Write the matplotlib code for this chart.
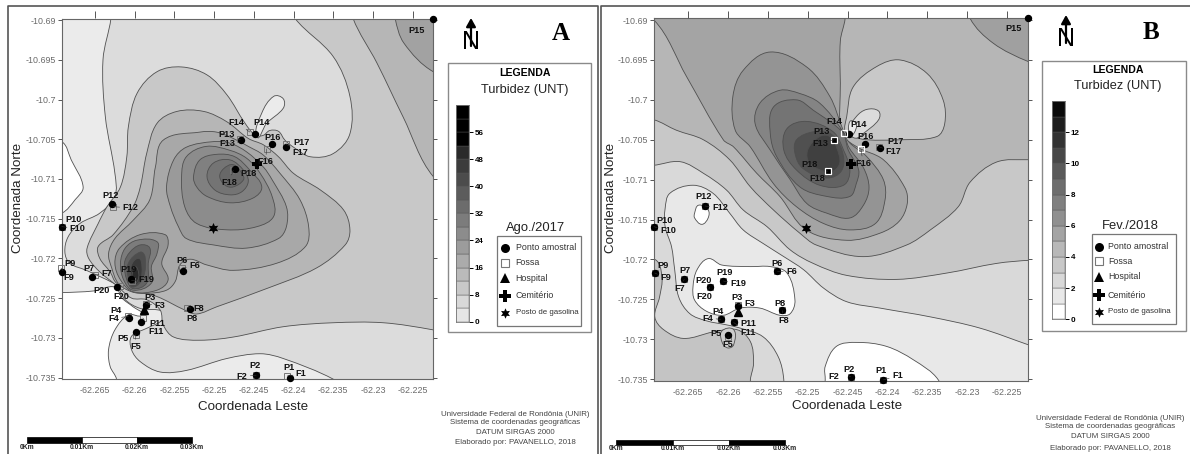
import numpy as np
import matplotlib
matplotlib.use("Agg")
import matplotlib.pyplot as plt
from matplotlib.path import Path
from matplotlib.patches import PathPatch, Rectangle

plt.rcParams['font.family'] = ['Liberation Sans', 'DejaVu Sans']

# ---------------- DATA: isolines ----------------
# Vertices are (x, y): x = thousandths of a degree west of 62, y = thousandths south of 10,
# so (260.0, 720.0) is lon -62.260, lat -10.720.
TICK_LON = [265, 260, 255, 250, 245, 240, 235, 230, 225]
TICK_LAT = [690, 695, 700, 705, 710, 715, 720, 725, 730, 735]
LON_LABELS = ['-62.265', '-62.26', '-62.255', '-62.25', '-62.245', '-62.24', '-62.235', '-62.23', '-62.225']
LAT_LABELS = ['-10.69', '-10.695', '-10.7', '-10.705', '-10.71', '-10.715', '-10.72', '-10.725', '-10.73', '-10.735']

# Map A (Ago./2017)
A_W1 = [(273,704.5),(269.2,705.3),(268,707.6),(266.5,711),(267.5,712.6),(269.2,714.3),(273,715)]
A_W2 = [(273,724.3),(269.2,724.3),(265.2,724.1),(262.5,723.6),(261.6,725),(260.2,726.1),(259.1,727.1),(260.8,727.1),(262.5,729),(263.3,731.5),(263.1,733.6),(262.3,735.2),(262.3,738),(273,738)]
A_L2 = [(263,687),(263,689.8),(264,695),(263.7,702.2),(262.5,709.3),(262.5,712.2),(264.4,714.3),(266.9,715.6),(268.4,717.3),(268.8,719.2),(268.2,720.6),(266.1,721.5),(262.7,723.1),(262.1,723.6),(261.2,725.2),(259.3,726.3),(256.4,726.7),(256.6,727.8),(258.5,728.8),(260.4,729.8),(260.4,731.5),(259.3,733),(256.8,734.3),(253.5,734.1),(248.4,732.6),(244.2,732),(241.3,732.6),(235,735.2),(233,737),(218,738),(218,687)]
A_L3 = [(218,687),(240.8,687),(239.8,689.8),(235,694.6),(232.9,699.6),(232.9,704.3),(235,706.8),(237.9,707.2),(240,706),(241.1,705.1),(241.9,704),(243,703.9),(243.8,704.5),(244.8,704.5),(246.1,703),(248.4,699.4),(250.9,696.9),(254.1,695.9),(257.2,696.5),(259.7,699.2),(260.8,703.4),(261,707.2),(261.8,711),(263.5,713.5),(264.6,715.6),(266,718.7),(265.8,720),(264.4,721.7),(262.3,723.4),(260.4,725),(258.5,725.2),(256.8,726.5),(256.4,728.4),(255.1,729.9),(251.8,730.3),(247.6,729.9),(241.3,728.6),(235,728.1),(228.7,728.1),(222.4,729),(218,730)]
A_L4_CORNER = [(232.7,687),(232.5,689.8),(229.5,695.4),(226.2,702.2),(222.4,709.7),(218,712),(218,687)]
A_L5_CORNER = [(227.4,687),(227.2,689.8),(226.1,692.9),(222.4,696.5),(218,697.5),(218,687)]
A_L4 = [(245.7,704.9),(243.8,705.7),(241.9,707.2),(240,709.3),(236.6,711.4),(233.7,713.9),(232.9,716.4),(233.5,718.3),(237.1,721.2),(243.4,723.8),(249.7,726.1),(252.2,727),(253.7,726.5),(257.2,724.8),(260.2,724),(262.3,723.1),(263.1,721.7),(264.4,720),(264.6,718.5),(262.7,717),(260.2,713.5),(259.3,711),(258.5,706.8),(257.2,703),(254.7,701.5),(251.3,701.5),(248.4,702.8)]
A_L5 = [(256.4,705.1),(251.8,704.1),(249.7,704.1),(247.6,704.9),(245.7,705.9),(243.8,707),(241.7,709.3),(239.2,712.6),(238.1,716),(238.5,718.5),(242.1,720.6),(247.6,721.5),(251,720.8),(253,720.1),(254.3,720.8),(254.9,722.9),(256,724),(258.5,724.4),(260.4,724.2),(262.1,723.1),(262.9,721.2),(263.3,719.4),(262.5,717.5),(260.2,715.2),(258.1,712.6),(257.4,708.5)]
A_L6 = [(255.5,713.5),(256,711),(255.1,707.6),(253.5,706),(250.1,705.3),(248,705.5),(245.9,706.6),(243.8,708.5),(242.7,710.1),(240.9,713.5),(240.9,716),(241.9,717.5),(245.9,718.7),(250.1,718.3),(253.5,717.5),(254.5,716)]
A_L7 = [(254.1,709.7),(253.5,707.2),(251,705.9),(248,706.4),(245.9,707.4),(244.2,709.3),(242.7,712.2),(242.5,714.7),(244.6,716),(248.4,716.4),(252.2,715.6),(253.7,713.5)]
A_L8 = [(252.6,709.7),(251.8,707.6),(249.7,706.9),(247.4,707.2),(245.5,708.9),(244,711),(245.1,712.4),(248,713),(250.9,712.2),(252.2,711)]
A_L9 = [(250.9,709.7),(250.1,708),(248,707.6),(246.3,708.9),(245.7,710.3),(246.5,711.6),(248,712),(249.9,711.4)]
A_L10 = [(249.3,709.7),(248.8,708.7),(247.6,708.2),(246.5,709.3),(246.3,710.1),(247.6,711),(248.6,710.8)]
A_T6 = [(259.3,717),(256.2,717),(255.8,718.3),(256.6,720.6),(255.8,722.7),(257.2,724),(260.2,724.2),(261.8,722.7),(262.5,720.6),(261.9,718.7)]
A_T7 = [(259.7,717.7),(257.2,717.9),(257.2,719.4),(257.9,721),(257.9,723.1),(260.2,724),(261.4,722.7),(261.8,720.6),(261.2,718.7)]
A_T8 = [(259.3,718.3),(258.1,718.7),(258.3,720.6),(258.5,723.1),(260.2,723.8),(261,722.7),(261.3,720.6),(260.6,719.2)]
A_T9 = [(259.3,719.2),(258.7,719.8),(258.9,722.3),(260.2,723.6),(260.8,722.5),(260.8,720.6)]
A_T10 = [(259.5,720),(259.1,721),(259.3,722.7),(260.2,723.4),(260.5,722.3),(260.4,720.8)]
A_T11 = [(260,721),(259.5,721.9),(259.7,722.9),(260.3,723.1),(260.3,721.9)]
A_POCKET = [(244.6,704.7),(244,701.7),(242.5,699.6),(241.3,699.9),(241.3,701.1),(243.4,703)]

# Map B (Fev./2018)
B_L1 = [(272,687),(272,690),(269.3,690),(265.2,697.1),(260.6,705),(259.3,705.9),(256.4,709.2),(253.5,712.1),(250.2,716.3),(245.1,717.6),(240.9,716.7),(238.5,715.2),(237.5,713),(237.8,711),(240.5,707.5),(243.8,705.9),(245.7,704.2),(245.9,697.9),(245.9,692.6),(245.3,689.8),(245.3,687)]
B_CORNER = [(229.8,687),(229.6,689.8),(226.7,692.9),(222.3,695.2),(218,696.5),(218,687)]
B_L6 = [(245.7,703.4),(247.2,699.6),(250.1,695.9),(254.7,694),(258.1,696.3),(259.4,699.6),(259.1,703.8),(257.2,705.9),(254.3,710.5),(251.4,713.4),(248,715.5),(244.7,716.3),(241.5,715.5),(240.3,712.6),(240.5,710),(242.6,707.1),(244.9,705.2)]
B_L7 = [(245.7,703.8),(248.5,700.4),(251,699.2),(253.5,698.8),(256,700.4),(256.6,703),(254.7,706.3),(252.2,710),(250.1,713),(247.6,714.2),(244.7,714.8),(243,713.2),(242.3,711),(243,708.5),(244.8,706)]
B_L8 = [(245.7,704),(249.3,701.3),(251.4,700),(254.3,700.9),(254.7,704.2),(253.9,707.1),(251,710.9),(247.6,712.1),(244.7,712.1),(243.9,710.5),(243.6,708.8),(244.9,706.3)]
B_L9 = [(250.1,702.7),(252.6,703.6),(253,706.3),(251.4,708.8),(248.5,710.7),(245.5,710.7),(244.7,708.8),(245.5,706.3),(246.8,704)]
B_L10 = [(249.3,704),(251.4,705),(251.6,706.7),(250.6,708.6),(247.6,709.8),(245.7,708.8),(245.7,706.3),(247.2,704.2)]
B_L11 = [(248.5,704.6),(250,706.3),(249.7,708),(247.2,709),(246,708),(246.4,705.9),(247.2,704.6)]
B_P_C8 = [(245.1,702.1),(244.3,698.4),(241.3,695.8),(238.4,695),(235,696.7),(233,700),(232.8,703),(233.8,704.6),(238.4,705),(242.6,705),(244.3,704.6),(245.3,704)]
B_P_D8 = [(244.9,704),(243.9,702.1),(242.6,701.2),(241.1,701.4),(241.1,702.5),(243,704.2),(244,704.8)]
B_P_E8 = [(244.7,702.7),(243.9,703),(244.2,704.2),(244.7,704.4)]
B_L2 = [(273,702),(269.3,702.5),(266.5,703.8),(263.1,705),(259.8,707.5),(257.2,710.9),(254.3,713.8),(251,716.7),(248.9,718.2),(243,719.65),(237.6,718.2),(234.6,716.3),(231.1,713.4),(229.6,710.3),(226.3,707.8),(222.3,707.5),(218,707.5),(218,738),(273,738)]
B_R1 = [(273,708.2),(269.4,708.2),(266,707.75),(263.1,709.2),(260.2,711.3),(258.1,713.8),(255.1,715.9),(252.2,718.8),(249.3,720.5),(245.1,722),(238.8,722.5),(232.5,721.7),(226.3,720.5),(222.1,720.1),(218,720),(218,738),(273,738)]
B_R2 = [(267.9,713.6),(267.3,711.7),(264.4,710.7),(261.9,711.7),(259.8,714.2),(258.1,716.3),(255.6,718),(253,719.65),(250.5,721.3),(248,723.6),(245.1,725.3),(240.9,726.1),(234.6,727.2),(228.4,728.6),(222.3,730.7),(218,732.2),(216,740),(253,740),(253,735.1),(253.7,732.2),(255.6,729.7),(258.5,728.6),(260.2,728.2),(262.7,727.7),(264.8,726.8),(266.2,724.7),(266.7,721.3),(267.1,718.4),(267.9,715.9)]
B_W_MAIN = [(264.4,723.4),(263.9,721.3),(262.5,719.9),(260.8,720.7),(257.2,720.9),(254.7,720.9),(252.6,721.7),(251.6,725.1),(252.2,726.8),(253.5,727),(256,726.1),(258.5,726.1),(260.6,727),(262.7,726.5),(264.2,725.1)]
B_W_BOTTOM = [(248,738),(247.8,735.1),(247.8,733.4),(246.4,730.9),(243.8,730.4),(240.1,730.9),(236.7,732.6),(233.6,735.1),(233,738)]
B_W_P12 = [(264.2,714.2),(263.7,713.2),(262.5,713.8),(262.5,714.8),(263.3,715.6),(264.2,714.8)]
B_C_LEFT = [(273,720),(269.2,720),(268.3,722.2),(268.6,724.7),(269.2,727.2),(268.1,728.8),(265.6,729.9),(261.9,729.1),(258.9,728.8),(257.2,730.3),(256.8,733),(257.2,735.1),(257.2,738),(273,738)]
B_P5 = [(260.8,729),(259.3,728.8),(259.3,730.7),(260,731.1),(260.7,730.5)]

# Sample points: P1..P20
A_PX = [240.5,244.7,258.6,260.7,259.9,253.9,265.4,253,269.2,269.2,259.2,262.9,246.6,244.8,222.4,242.7,241,247.4,260.5,262.2]
A_PY = [735,734.7,725.9,727.5,729.3,721.6,722.4,726.4,721.7,716,728,713.2,705.1,704.3,689.8,705.6,706,708.8,722.6,723.6]
B_PX = [240.5,244.6,258.7,260.9,260,253.8,265.5,253.2,269.2,269.3,259.3,262.9,246.7,244.8,222.3,242.8,240.9,247.5,260.6,262.3]
B_PY = [735.1,734.7,725.8,727.5,729.5,721.5,722.5,726.4,721.7,715.9,727.9,713.3,705,704.3,689.7,705.5,706,708.9,722.7,723.5]
# Fossas: F1..F20 (F15 absent)
A_FX = [240.8,244.7,258.6,260.8,259.9,254,265,253.4,269.3,269.2,259,262.7,246.7,245.5,243.4,241,247.6,260.4,261.8]
A_FY = [734.8,734.7,725.7,727.3,729.6,721.2,722.1,726.2,721.2,716,727.5,713.5,705,704.1,706.2,705.6,708.9,722.8,723.5]
B_FX = [240.5,244.6,258.7,260.9,260,253.8,265.5,253.2,269.2,269.3,259.3,262.9,246.7,245.4,243.3,241,247.5,260.6,262.3]
B_FY = [735.1,734.7,725.7,727.5,729.7,721.5,722.5,726.4,721.7,715.9,727.9,713.3,705,704.2,706.2,705.9,708.9,722.7,723.5]
A_HOSPITAL = (258.8,726.5); A_CEMETERY = (244.6,708.1); A_STATION = (250.2,716.2)
B_HOSPITAL = (258.8,726.6); B_CEMETERY = (244.6,708.0); B_STATION = (250.2,716.1)

P_NAMES = ['P%d' % i for i in range(1, 21)]
F_NAMES = ['F%d' % i for i in range(1, 21) if i != 15]
LEGEND_ITEMS = ['Ponto amostral', 'Fossa', 'Hospital', 'Cemitério', 'Posto de gasolina']
A_BAR_TICKS = [0, 8, 16, 24, 32, 40, 48, 56]
B_BAR_TICKS = [0, 2, 4, 6, 8, 10, 12]
A_BAR_GREYS = ['#e6e6e6','#d8d8d8','#c8c8c8','#bababa','#ababab','#9c9c9c','#8c8c8c','#7c7c7c','#6c6c6c','#5c5c5c','#4c4c4c','#3c3c3c','#2a2a2a','#000000','#000000','#000000']
B_BAR_GREYS = ['#ffffff','#e8e8e8','#d8d8d8','#c8c8c8','#b8b8b8','#a4a4a4','#909090','#808080','#6e6e6e','#5a5a5a','#484848','#333333','#1e1e1e','#0a0a0a']
FOOTER = ['Universidade Federal de Rondônia (UNIR)', 'Sistema de coordenadas geográficas', 'DATUM SIRGAS 2000', 'Elaborado por: PAVANELLO, 2018']
SCALE_LABELS = ['0Km', '0.01Km', '0.02Km', '0.03Km']

# ---------------- style ----------------
A_P_OFF = [(-1,-10),(-1,-10),(4,-8),(-13,-7),(-13,6),(-1,-11),(-3,-9),(2,9),(8,-8),(12,-7),(16,2),(-1,-9),(-15,-6),(6,-11),(-17,12),(0,-7),(16,-5),(14,4),(-2,-10),(-16,3)]
A_F_OFF = [(14,-2),(-14,1),(14,2),(-15,2),(0,12),(12,-2),(12,-2),(12,1),(8,10),(16,2),(13,14),(17,1),(-13,4),(-14,-10),(-1,13),(15,8),(-4,12),(15,-1),(1,10)]
B_P_OFF = [(-2,-9),(-2,-7),(-1,-8),(-3,-8),(-12,-2),(0,-8),(1,-9),(-2,-7),(8,-7),(11,-6),(15,1),(-1,-9),(-12,-8),(9,-10),(-15,11),(1,-7),(15,-6),(-18,-6),(1,-8),(-6,-7)]
B_F_OFF = [(14,-4),(-17,0),(11,-1),(-13,-1),(0,8),(14,0),(-5,9),(1,10),(11,5),(14,4),(14,10),(15,2),(-14,4),(-10,-12),(2,14),(14,5),(-10,8),(15,3),(-5,9)]

W, H = 1190, 454
fig = plt.figure(figsize=(W/100, H/100), dpi=100, facecolor='white')

def smooth(poly):
    p = np.column_stack([-(62 + np.array([q[0] for q in poly])/1000.0),
                         -(10 + np.array([q[1] for q in poly])/1000.0)])
    n = len(p)
    verts = [p[0]]; codes = [Path.MOVETO]
    def unit(i):
        d = p[(i+1) % n] - p[i-1]
        return d/(np.hypot(*d) or 1)
    for i in range(n):
        j = (i+1) % n
        seg = np.hypot(*(p[j]-p[i]))
        verts += [p[i]+unit(i)*seg*0.34, p[j]-unit(j)*seg*0.34, p[j]]
        codes += [Path.CURVE4]*3
    return Path(verts, codes)

def band(ax, poly, color, z):
    ax.add_patch(PathPatch(smooth(poly), fc=color, ec='#4f4f4f', lw=0.6, zorder=z))

def px_axes(l, t, r, b):
    return fig.add_axes([l/W, 1-b/H, (r-l)/W, (b-t)/H])

def lon(v): return -(62 + np.asarray(v, float)/1000.0)
def lat(v): return -(10 + np.asarray(v, float)/1000.0)

def make_map(box, xl, yl, layers, face, px, py, fx, fy, hosp, cem, stn, poff, foff, white_sq):
    ax = px_axes(*box)
    ax.set_facecolor(face)
    ax.set_xlim(lon(xl[0]), lon(xl[1])); ax.set_ylim(lat(yl[1]), lat(yl[0]))
    for z, (poly, col) in enumerate(layers):
        band(ax, poly, col, 1 + z*0.01)
    ax.set_xticks(lon(TICK_LON)); ax.set_xticklabels(LON_LABELS)
    ax.set_yticks(lat(TICK_LAT)); ax.set_yticklabels(LAT_LABELS)
    ax.tick_params(axis='x', labelsize=6.4, labelcolor='#6a6a6a', length=0, pad=5)
    ax.tick_params(axis='y', labelsize=6.4, labelcolor='#6a6a6a', length=3, pad=1, color='#555555', right=True, width=0.7)
    for s in ax.spines.values():
        s.set_color('#666666'); s.set_linewidth(0.8)
    ax2 = ax.twiny(); ax2.set_xlim(ax.get_xlim()); ax2.set_xticks(lon(TICK_LON)); ax2.set_xticklabels([])
    ax2.tick_params(axis='x', length=5, color='#555555', width=0.7)
    for s in ax2.spines.values(): s.set_visible(False)
    for x0, y0, nm, off in zip(fx, fy, F_NAMES, foff):
        ax.annotate(nm, (lon(x0), lat(y0)), xytext=(off[0], -off[1]), textcoords='offset pixels', fontsize=6.6, fontweight='bold',
                    ha='center', va='center', color='#111111', zorder=12, annotation_clip=False,
                    arrowprops=dict(arrowstyle='-', lw=0.4, color='#333333', shrinkA=5, shrinkB=0))
    ax.plot(lon(fx), lat(fy), ls='', marker='s', ms=4.4, mfc='none', mec='#777777', mew=0.7, zorder=9, clip_on=False)
    ax.plot(lon(px), lat(py), ls='', marker='o', ms=4.3, color='black', zorder=10, clip_on=False)
    if white_sq:
        idx = [12, 13, 14, 16]
        ax.plot(lon(np.array(fx)[idx]), lat(np.array(fy)[idx]), ls='', marker='s', ms=5, mfc='none', mec='white', mew=0.9, zorder=11)
    for x0, y0, nm, off in zip(px, py, P_NAMES, poff):
        ax.annotate(nm, (lon(x0), lat(y0)), xytext=(off[0], -off[1]), textcoords='offset pixels', fontsize=6.6, fontweight='bold',
                    ha='center', va='center', color='#111111', zorder=12, annotation_clip=False)
    ax.plot(lon(hosp[0]), lat(hosp[1]), marker='^', ms=6, color='black', zorder=10)
    ax.plot(lon(cem[0]), lat(cem[1]), marker='P', ms=7.5, color='black', mew=0, zorder=10)
    ax.plot(lon(stn[0]), lat(stn[1]), marker=(6, 1, 0), ms=8, color='black', mew=0, zorder=10)
    return ax

A_LAYERS = [(A_W1,'#ffffff'),(A_W2,'#ffffff'),(A_L2,'#dcdcdc'),(A_L3,'#c8c8c8'),(A_L4_CORNER,'#b6b6b6'),(A_L5_CORNER,'#a2a2a2'),
            (A_L4,'#b6b6b6'),(A_L5,'#a8a8a8'),(A_L6,'#9a9a9a'),(A_L7,'#8c8c8c'),(A_L8,'#808080'),(A_L9,'#747474'),(A_L10,'#686868'),
            (A_T6,'#949494'),(A_T7,'#7c7c7c'),(A_T8,'#646464'),(A_T9,'#4e4e4e'),(A_T10,'#3a3a3a'),(A_T11,'#2a2a2a'),(A_POCKET,'#ebebeb')]
make_map((61.7,18.5,433.3,379), (269.2,222.4), (689.8,735.18), A_LAYERS, '#ebebeb', A_PX, A_PY, A_FX, A_FY,
         A_HOSPITAL, A_CEMETERY, A_STATION, A_P_OFF, A_F_OFF, False)

B_LAYERS = [(B_L2,'#c8c8c8'),(B_R1,'#d9d9d9'),(B_R2,'#e8e8e8'),(B_C_LEFT,'#c4c4c4'),(B_P5,'#cccccc'),(B_W_MAIN,'#ffffff'),(B_W_BOTTOM,'#ffffff'),(B_W_P12,'#ffffff'),
            (B_L1,'#a4a4a4'),(B_CORNER,'#a0a0a0'),(B_L6,'#949494'),(B_L7,'#848484'),(B_L8,'#747474'),(B_L9,'#626262'),(B_L10,'#505050'),(B_L11,'#404040'),
            (B_P_C8,'#c8c8c8'),(B_P_D8,'#dcdcdc'),(B_P_E8,'#ececec')]
make_map((654,17.7,1028.3,380.7), (269.3,222.3), (689.7,735.2), B_LAYERS, '#b6b6b6', B_PX, B_PY, B_FX, B_FY,
         B_HOSPITAL, B_CEMETERY, B_STATION, B_P_OFF, B_F_OFF, True)

top = fig.add_axes([0,0,1,1], zorder=20); top.set_xlim(0,W); top.set_ylim(H,0); top.axis('off'); top.patch.set_alpha(0)
for xs, ys in [([8,8,598,598],[454,5.5,5.5,454]), ([601,601,1190],[454,5.5,5.5])]:
    top.plot(xs, ys, color='#555555', lw=1.2, solid_capstyle='butt')

def furniture(cx_lab, y_lab, x_north, y_north, nx, ny, letter, lx, ly,
              box, title_x, ty1, ty2, bar, greys, vmax, ticks, symbox, per, px_c, py_c, sx, sy, tx,
              fx, fy, scale, sl_y):
    top.text(cx_lab, y_lab, 'Coordenada Leste', fontsize=9.6, ha='center', va='center', color='#222222')
    top.text(x_north, y_north, 'Coordenada Norte', fontsize=9.6, rotation=90, ha='center', va='center', color='#222222')
    top.text(nx, ny+8, 'N', fontsize=18, ha='center', va='center', color='black')
    top.annotate('', xy=(nx, ny-16), xytext=(nx, ny+12), arrowprops=dict(arrowstyle='-|>,head_width=0.28,head_length=0.5', lw=1.6, color='black', shrinkA=0, shrinkB=0))
    top.text(lx, ly, letter, fontsize=18, fontweight='bold', family='Liberation Serif', ha='center', va='center', color='black')
    l, t, r, b = box
    top.add_patch(Rectangle((l,t), r-l, b-t, fc='white', ec='#8a8a8a', lw=1.0, zorder=1))
    top.text(title_x, ty1, 'LEGENDA', fontsize=7.6, fontweight='bold', ha='center', va='center', zorder=3)
    top.text(title_x, ty2, 'Turbidez (UNT)', fontsize=9.2, ha='center', va='center', color='#222222', zorder=3)
    l2, t2, r2, b2 = symbox
    top.add_patch(Rectangle((l2,t2), r2-l2, b2-t2, fc='white', ec='#777777', lw=0.9, zorder=2))
    top.text(px_c, py_c, per, fontsize=9.4, ha='center', va='center', color='#222222', zorder=3)
    mk = [('o',6.5,'black','none'),('s',6,'none','#777777'),('^',7.5,'black','none'),('P',8,'black','none'),((6,1,0),7.5,'black','none')]
    for y0, (m, ms, fc, ec), lab in zip(sy, mk, LEGEND_ITEMS):
        top.plot([sx],[y0], marker=m, ms=ms, mfc=fc, mec=ec if ec!='none' else fc, mew=0.8 if ec!='none' else 0, zorder=3, ls='')
        top.text(tx, y0, lab, fontsize=5.7 if lab.startswith('Posto') else 6.4, ha='left', va='center', color='#333333', zorder=3)
    for y0, s in zip(fy, FOOTER):
        top.text(fx, y0, s, fontsize=5.7, ha='center', va='center', color='#444444')
    x0, x1, x2, x3, yt, yb = scale
    for a, c in zip([(x0,x1),(x1,x2),(x2,x3)], ['black','white','black']):
        top.add_patch(Rectangle((a[0],yt), a[1]-a[0], yb-yt, fc=c, ec='black', lw=0.5))
    for x, s in zip([x0,x1,x2,x3], SCALE_LABELS):
        top.text(x, sl_y, s, fontsize=4.9, fontweight='bold', ha='center', va='center', color='#222222')
    cb = px_axes(*bar); cb.set_zorder(30)
    edges = np.linspace(0, vmax, len(greys)+1)
    for i, g in enumerate(greys):
        cb.bar(0.5, edges[i+1]-edges[i], bottom=edges[i], width=1, color=g, ec='#555555', lw=0.3)
    cb.set_xlim(0,1); cb.set_ylim(0,vmax); cb.set_xticks([])
    cb.yaxis.tick_right(); cb.set_yticks(ticks); cb.set_yticklabels([str(v) for v in ticks], fontsize=5.8, fontweight='bold')
    cb.tick_params(axis='y', length=3, width=0.7, pad=1)
    for s in cb.spines.values(): s.set_color('#777777'); s.set_linewidth(0.6)

furniture(253,407,18,198, 471,34,'A',561,33, (448.3,63.3,591,332), 525,73,90, (455.7,105,469,321.7), A_BAR_GREYS, 64, A_BAR_TICKS,
          (496.7,236,581,326),'Ago./2017',536,227.7, 505,[248,262.7,278.3,296,313],515.7, 515,[415,423,432,443],(27.3,82.3,137,191.7,437,443),447.7)
furniture(846.7,406,611,198, 1066,31,'B',1150.7,32.7, (1042.3,60.7,1185.7,331), 1118,70,86, (1051.7,101,1065,319.3), B_BAR_GREYS, 14, B_BAR_TICKS,
          (1091.7,234,1175.7,324.3),'Fev./2018',1130.7,226, 1099.3,[246.7,261,276.7,295,311.7],1108, 1110,[418,427,436,448],(616,672.5,729,785.3,440,445),449)

fig.savefig('out.png', dpi=100)
